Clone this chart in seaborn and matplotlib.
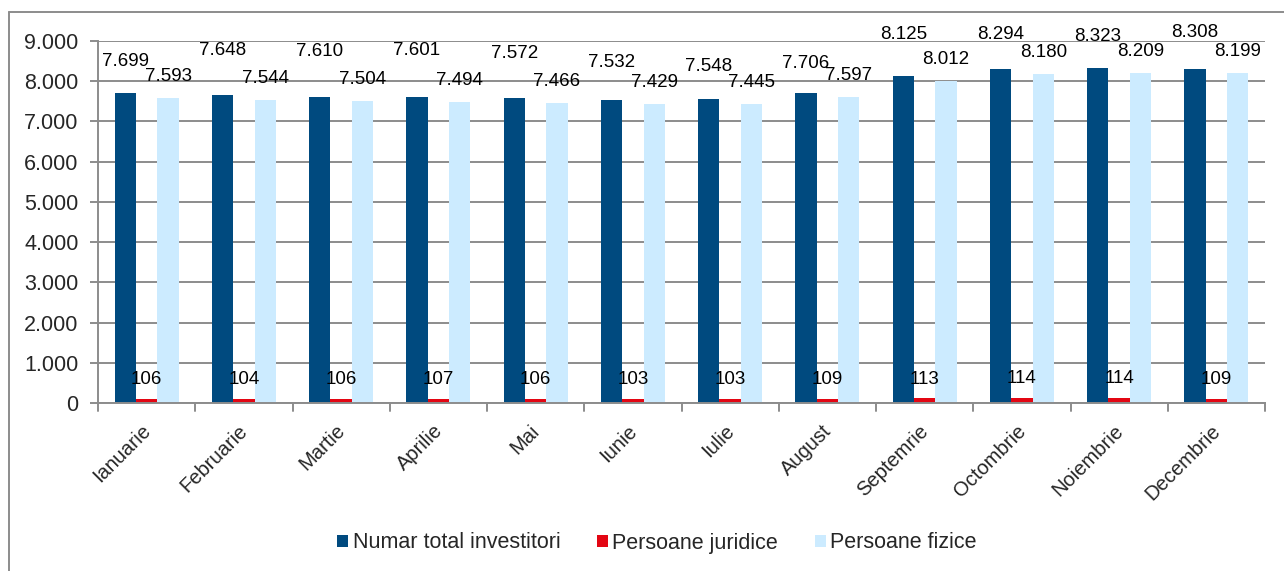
import matplotlib
matplotlib.use("Agg")
import matplotlib.pyplot as plt
import matplotlib.transforms as mtransforms
import seaborn as sns
import pandas as pd
import numpy as np
from matplotlib.lines import Line2D
from matplotlib.patches import Patch

months = ["Ianuarie", "Februarie", "Martie", "Aprilie", "Mai", "Iunie",
          "Iulie", "August", "Septemrie", "Octombrie", "Noiembrie", "Decembrie"]
series_names = ["Numar total investitori", "Persoane juridice", "Persoane fizice"]
total = [7699, 7648, 7610, 7601, 7572, 7532, 7548, 7706, 8125, 8294, 8323, 8308]
juridice = [106, 104, 106, 107, 106, 103, 103, 109, 113, 114, 114, 109]
fizice = [7593, 7544, 7504, 7494, 7466, 7429, 7445, 7597, 8012, 8180, 8209, 8199]
y_ticks = [0, 1000, 2000, 3000, 4000, 5000, 6000, 7000, 8000, 9000]
y_tick_labels = ["0", "1.000", "2.000", "3.000", "4.000", "5.000",
                 "6.000", "7.000", "8.000", "9.000"]

# label vertical offsets for the total series (points), as placed in the original
total_label_dy = [23, 32, 33, 34, 32, 27, 24, 21, 30, 25, 23, 26]

colors = ["#004A7F", "#E30613", "#CCEBFF"]

df = pd.DataFrame({
    "luna": months * 3,
    "serie": [series_names[0]] * 12 + [series_names[1]] * 12 + [series_names[2]] * 12,
    "valoare": total + juridice + fizice,
})

sns.set_style("white")
plt.rcParams["font.family"] = ["Liberation Sans", "DejaVu Sans"]

FS_Y = 15.5
FS_X = 14.5
FS_LAB = 13.5
FS_LEG = 15.5
fig = plt.figure(figsize=(12.84, 5.71), dpi=100)
ax = fig.add_axes([98 / 1284, 1 - 403 / 571, (1265 - 98) / 1284, (403 - 41) / 571])

sns.barplot(data=df, x="luna", y="valoare", hue="serie", order=months,
            hue_order=series_names, palette=colors, width=0.66, gap=0,
            saturation=1, ax=ax, legend=False, linewidth=0, edgecolor="none")

ax.set_ylim(0, 9000)
ax.set_xlim(-0.5, len(months) - 0.5)
ax.set_yticks(y_ticks)
ax.set_yticklabels(y_tick_labels, fontsize=FS_Y)
ax.yaxis.grid(True, color="#8C8C8C", linewidth=1.4)
ax.set_axisbelow(True)
ax.set_xlabel("")
ax.set_ylabel("")

# x ticks at category boundaries
ax.set_xticks(np.arange(len(months)))
ax.set_xticklabels(months, rotation=45, ha="right", rotation_mode="anchor",
                   fontsize=FS_X)
ax.tick_params(axis="x", length=0, pad=13)
ax.tick_params(axis="y", length=6, color="#8C8C8C", width=1.4, pad=8, left=True)
shift = mtransforms.ScaledTranslation(-4 / 72, 0, fig.dpi_scale_trans)
for lab in ax.get_xticklabels():
    lab.set_transform(lab.get_transform() + shift)
for b in np.arange(-0.5, len(months), 1.0):
    ax.plot([b, b], [0, -0.022], transform=ax.get_xaxis_transform(),
            color="#8C8C8C", linewidth=1.4, clip_on=False)

for s in ["top", "right"]:
    ax.spines[s].set_visible(False)
for s in ["left", "bottom"]:
    ax.spines[s].set_color("#8C8C8C")
    ax.spines[s].set_linewidth(1.4)

# data labels
containers = ax.containers
for ci, cont in enumerate(containers):
    vals = [total, juridice, fizice][ci]
    for i, bar in enumerate(cont):
        xc = bar.get_x() + bar.get_width() / 2
        top = bar.get_height()
        txt = f"{vals[i]:,}".replace(",", ".")
        if ci == 0:
            dy = total_label_dy[i]
        elif ci == 1:
            dy = 14
        else:
            dy = 15.5
        ax.annotate(txt, (xc, top), xytext=(0, dy), textcoords="offset points",
                    ha="center", va="center", fontsize=FS_LAB, color="black",
                    annotation_clip=False)

# legend
handles = [Patch(facecolor=c, edgecolor="none") for c in colors]
fig.legend(handles, series_names, loc="center", bbox_to_anchor=(657 / 1284, 1 - 543 / 571),
           ncol=3, frameon=False, fontsize=FS_LEG, handlelength=0.52, handleheight=0.52,
           handletextpad=0.2, columnspacing=1.7)

# outer frame (left and top edges)
fig.add_artist(Line2D([9 / 1284, 9 / 1284], [0, 1 - 12 / 571], color="#8C8C8C",
                      linewidth=1.4, transform=fig.transFigure))
fig.add_artist(Line2D([9 / 1284, 1], [1 - 12 / 571, 1 - 12 / 571], color="#8C8C8C",
                      linewidth=1.4, transform=fig.transFigure))

fig.savefig("out.png", dpi=100)
